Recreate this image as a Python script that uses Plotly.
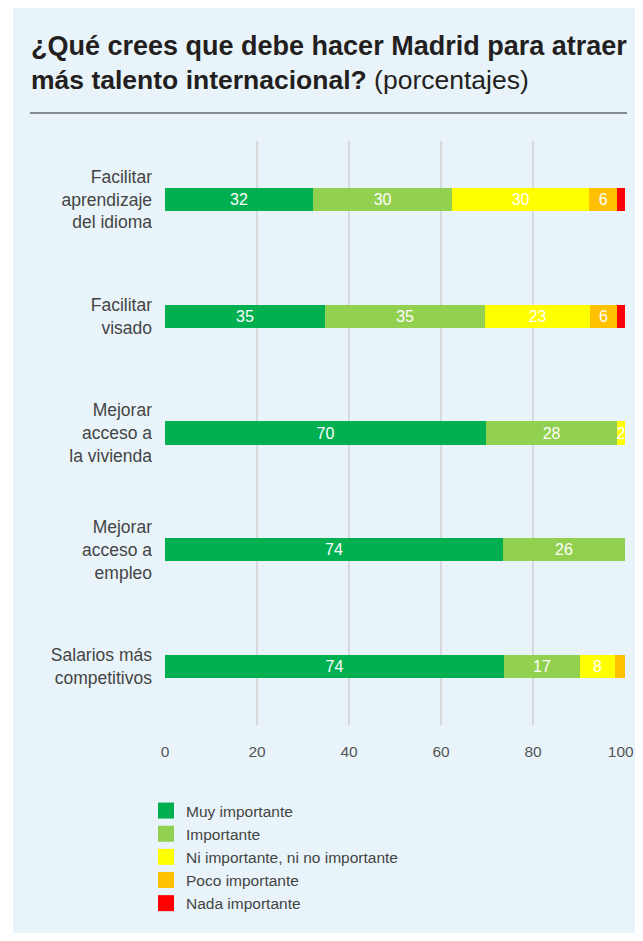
import plotly.graph_objects as go

categories = ["Facilitar<br>aprendizaje<br>del idioma", "Facilitar<br>visado",
              "Mejorar<br>acceso a<br>la vivienda", "Mejorar<br>acceso a<br>empleo",
              "Salarios más<br>competitivos"]
series_names = ["Muy importante", "Importante", "Ni importante, ni no importante",
                "Poco importante", "Nada importante"]
muy_importante = [32.2, 34.8, 69.8, 73.5, 73.7]
importante = [30.2, 34.8, 28.5, 26.5, 16.5]
ni_importante = [29.8, 22.8, 1.7, 0, 7.6]
poco_importante = [6.1, 5.9, 0, 0, 2.2]
nada_importante = [1.7, 1.7, 0, 0, 0]
labels_muy = ["32", "35", "70", "74", "74"]
labels_imp = ["30", "35", "28", "26", "17"]
labels_ni = ["30", "23", "2", "", "8"]
labels_poco = ["6", "6", "", "", ""]
labels_nada = ["", "", "", "", ""]
x_ticks = [0, 20, 40, 60, 80, 100]
x_ticktext = ["0", "20", "40", "60", "80", "100\u00a0\u00a0"]
colors = ["#00B050", "#92D050", "#FFFF00", "#FFC000", "#FF0000"]

FONT = "Liberation Sans"
OFF = 8  # page body margin
W, H = 643 - OFF, 941 - 2 * OFF
ML, MR, MT, MB = 157, W - 617, 133, H - 717
PW, PH = W - ML - MR, H - MT - MB

def px(x):
    return (x - OFF - ML) / PW

def py(y):
    return (H - MB - (y - OFF)) / PH

fig = go.Figure()
values = [muy_importante, importante, ni_importante, poco_importante, nada_importante]
labels = [labels_muy, labels_imp, labels_ni, labels_poco, labels_nada]
for name, vals, labs, col in zip(series_names, values, labels, colors):
    fig.add_trace(go.Bar(
        y=categories, x=vals, name=name, orientation="h",
        marker=dict(color=col, line=dict(width=0)),
        text=labs, textposition="inside", insidetextanchor="middle",
        textangle=0, constraintext="none",
        textfont=dict(color="white", size=16, family=FONT),
        hoverinfo="skip", showlegend=False, legendgroup=name,
    ))
for name, col in zip(series_names, colors):
    fig.add_trace(go.Scatter(
        x=[None], y=[None], mode="markers", name=name, legendgroup=name,
        marker=dict(symbol="square", size=16, color=col, line=dict(width=0)),
        showlegend=True, hoverinfo="skip",
    ))

fig.update_layout(
    width=W, height=H,
    margin=dict(l=ML, r=MR, t=MT, b=MB, autoexpand=False),
    paper_bgcolor="#E9F4FA", plot_bgcolor="rgba(0,0,0,0)",
    barmode="stack", bargap=0.8,
    font=dict(family=FONT, color="#444444"),
    showlegend=True,
    legend=dict(x=px(146), y=py(794), xanchor="left", yanchor="top",
                font=dict(size=15.5, color="#444444", family=FONT),
                bgcolor="rgba(0,0,0,0)", tracegroupgap=0, traceorder="normal",
                itemsizing="trace"),
    xaxis=dict(range=[0, 100], tickvals=x_ticks, ticktext=x_ticktext, showgrid=True,
               gridcolor="#d7d9db", gridwidth=2, zeroline=False, showline=False,
               ticks="outside", ticklen=12, tickcolor="rgba(0,0,0,0)",
               ticklabeloverflow="allow",
               tickfont=dict(size=15.5, color="#555555", family=FONT), fixedrange=True),
    yaxis=dict(autorange="reversed", showgrid=False, showline=False, zeroline=False,
               ticks="", ticklabelstandoff=12,
               tickfont=dict(size=17.5, color="#444444", family=FONT)),
    shapes=[
        dict(type="rect", xref="paper", yref="paper", layer="below",
             x0=px(0), x1=px(13), y0=py(960), y1=py(0),
             fillcolor="white", line=dict(width=0)),
        dict(type="line", xref="paper", yref="paper",
             x0=px(30), x1=px(627), y0=py(113), y1=py(113),
             line=dict(color="#222222", width=1)),
    ],
    annotations=[
        dict(xref="paper", yref="paper", x=px(29), y=py(46), xanchor="left", yanchor="middle",
             text="<b>¿Qué crees que debe hacer Madrid para atraer</b>", showarrow=False,
             font=dict(size=27, color="#231f20", family=FONT)),
        dict(xref="paper", yref="paper", x=px(29), y=py(80), xanchor="left", yanchor="middle",
             text="<b>más talento internacional?</b> (porcentajes)", showarrow=False,
             font=dict(size=26.5, color="#231f20", family=FONT)),
    ],
)

fig.write_html("out.html")
